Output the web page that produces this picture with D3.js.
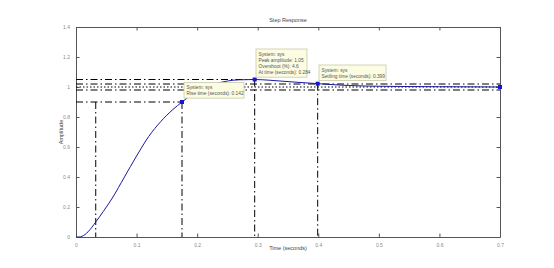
<!DOCTYPE html>
<html lang="en">
<head>
  <meta charset="UTF-8">
  <title>Step Response</title>
  <script src="https://d3js.org/d3.v7.min.js"></script>
  <style>
    body { margin: 0; background: #fff; }
    svg { display: block; font-family: "Liberation Sans", Arial, sans-serif; }
    .tick text { fill: #8a8a8a; font-size: 5px; }
    .tick line { stroke: #555; }
    .domain { stroke: #555; }
    .note text { font-size: 4.8px; fill: #555; }
  </style>
</head>
<body>
<div id="chart"></div>
<script>
  // step response
  const times = [0, 0.005, 0.01, 0.02, 0.0326, 0.045, 0.06, 0.08, 0.1, 0.12, 0.14, 0.16, 0.175,
                 0.19, 0.21, 0.23, 0.25, 0.27, 0.295, 0.32, 0.36, 0.4, 0.45, 0.5, 0.6, 0.7];
  const amplitude = [0, 0, 0.005, 0.035, 0.1, 0.17, 0.26, 0.4, 0.54, 0.67, 0.77, 0.85, 0.9,
                     0.945, 0.99, 1.02, 1.04, 1.048, 1.05, 1.045, 1.033, 1.022, 1.01, 1.005, 1.002, 1.0];

  const xTicks = [0, 0.1, 0.2, 0.3, 0.4, 0.5, 0.6, 0.7];
  const yTicks = [0, 0.2, 0.4, 0.6, 0.8, 1, 1.2, 1.4];

  // characteristic points: [time, amplitude]
  const riseStart = [0.0326, 0.1];
  const risePoint = [0.175, 0.9];
  const peakPoint = [0.295, 1.05];
  const settlePoint = [0.399, 1.022];
  const endPoint = [0.7, 1.0];
  const bandLevels = [1.02, 0.98];

  const riseText = ["System: sys", "Rise time (seconds): 0.142"];
  const peakText = ["System: sys", "Peak amplitude: 1.05", "Overshoot (%): 4.6", "At time (seconds): 0.284"];
  const settleText = ["System: sys", "Settling time (seconds): 0.399"];

  const width = 554, height = 268;
  const margin = {left: 76, right: 54, top: 27, bottom: 31};

  const svg = d3.select("#chart").append("svg")
    .attr("width", width)
    .attr("height", height);

  const x = d3.scaleLinear().domain([0, 0.7]).range([margin.left, width - margin.right]);
  const y = d3.scaleLinear().domain([0, 1.4]).range([height - margin.bottom, margin.top]);

  const fmt = d => d === 0 ? "0" : String(d);

  // axes (MATLAB style box with ticks inside)
  svg.append("g")
    .attr("transform", `translate(0,${y(0)})`)
    .call(d3.axisBottom(x).tickValues(xTicks).tickFormat(fmt).tickSizeInner(-3.5).tickSizeOuter(0).tickPadding(6));
  svg.append("g")
    .attr("transform", `translate(0,${y(1.4)})`)
    .call(d3.axisTop(x).tickValues(xTicks).tickFormat("").tickSizeInner(-3.5).tickSizeOuter(0));
  svg.append("g")
    .attr("transform", `translate(${x(0)},0)`)
    .call(d3.axisLeft(y).tickValues(yTicks).tickFormat(fmt).tickSizeInner(-3.5).tickSizeOuter(0).tickPadding(6));
  svg.append("g")
    .attr("transform", `translate(${x(0.7)},0)`)
    .call(d3.axisRight(y).tickValues(yTicks).tickFormat("").tickSizeInner(-3.5).tickSizeOuter(0));

  // dash-dot guide lines
  const guide = (x1, y1, x2, y2, dash) => svg.append("line")
    .attr("x1", x(x1)).attr("y1", y(y1)).attr("x2", x(x2)).attr("y2", y(y2))
    .attr("stroke", "#000").attr("stroke-width", 1)
    .attr("stroke-dasharray", dash || "7,3,1.5,3");

  guide(0, risePoint[1], risePoint[0], risePoint[1]);
  guide(riseStart[0], risePoint[1], riseStart[0], 0);
  guide(risePoint[0], risePoint[1], risePoint[0], 0);
  guide(0, peakPoint[1], peakPoint[0], peakPoint[1]);
  guide(peakPoint[0], peakPoint[1], peakPoint[0], 0);
  guide(settlePoint[0], settlePoint[1], settlePoint[0], 0);
  bandLevels.forEach(b => guide(0, b, 0.7, b));
  guide(0, 1.0, 0.7, 1.0, "1.5,2");

  // response curve
  const pts = times.map((t, i) => [t, amplitude[i]]);
  svg.append("path")
    .datum(pts)
    .attr("fill", "none")
    .attr("stroke", "#1a1a9c")
    .attr("stroke-width", 1)
    .attr("d", d3.line().x(d => x(d[0])).y(d => y(d[1])).curve(d3.curveMonotoneX));

  // markers
  svg.selectAll(".mk")
    .data([risePoint, peakPoint, settlePoint, endPoint])
    .enter().append("rect")
    .attr("x", d => x(d[0]) - 2)
    .attr("y", d => y(d[1]) - 2)
    .attr("width", 4).attr("height", 4)
    .attr("fill", "#1515d8");

  // data tip boxes
  function note(px, py, w, lines) {
    const g = svg.append("g").attr("class", "note");
    g.append("rect")
      .attr("x", px).attr("y", py)
      .attr("width", w).attr("height", lines.length * 6.3 + 3)
      .attr("fill", "#fcfce2").attr("stroke", "#c9c9a9").attr("stroke-width", 0.8);
    lines.forEach((t, i) => g.append("text")
      .attr("x", px + 2.5).attr("y", py + 6.5 + i * 6.3).text(t));
  }
  note(184, 82.5, 60, riseText);
  note(256, 49, 51, peakText);
  note(319, 65, 67, settleText);

  // labels
  svg.append("text")
    .attr("x", 288).attr("y", 22)
    .attr("text-anchor", "middle")
    .attr("font-size", 5.5).attr("fill", "#444")
    .text("Step Response");
  svg.append("text")
    .attr("x", 288).attr("y", 250)
    .attr("text-anchor", "middle")
    .attr("font-size", 5.5).attr("fill", "#444")
    .text("Time (seconds)");
  svg.append("text")
    .attr("transform", `translate(63,${y(0.7)}) rotate(-90)`)
    .attr("text-anchor", "middle")
    .attr("font-size", 5.5).attr("fill", "#444")
    .text("Amplitude");
</script>
</body>
</html>
